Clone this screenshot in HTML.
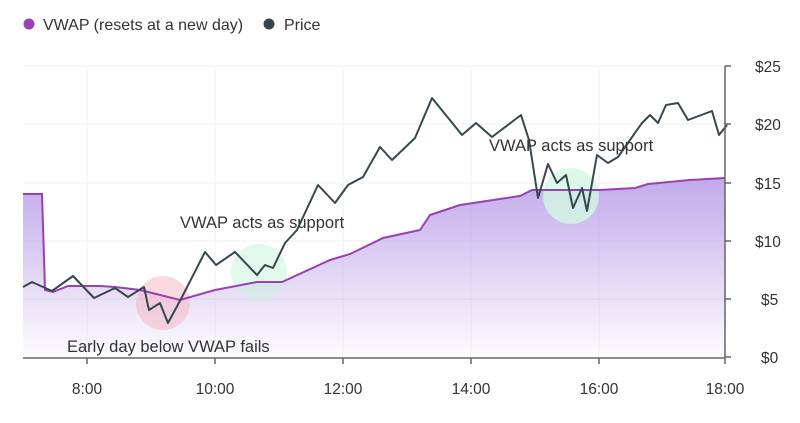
<!DOCTYPE html>
<html><head><style>
body{margin:0;background:#fff;}
svg{display:block;font-family:"Liberation Sans","DejaVu Sans",sans-serif;}
</style></head><body>
<svg width="800" height="423" viewBox="0 0 800 423">
<defs>
<linearGradient id="g" x1="0" y1="0" x2="0" y2="1">
<stop offset="0" stop-color="#b79be6" stop-opacity="0.85"/>
<stop offset="1" stop-color="#b79be6" stop-opacity="0.03"/>
</linearGradient>
</defs>
<g stroke="#f0f0f0" stroke-width="1">
<line x1="23" y1="66" x2="725" y2="66"/><line x1="23" y1="124" x2="725" y2="124"/>
<line x1="23" y1="183" x2="725" y2="183"/><line x1="23" y1="241" x2="725" y2="241"/>
<line x1="23" y1="299" x2="725" y2="299"/>
<line x1="87" y1="66" x2="87" y2="357"/><line x1="215" y1="66" x2="215" y2="357"/>
<line x1="343" y1="66" x2="343" y2="357"/><line x1="471" y1="66" x2="471" y2="357"/>
<line x1="599" y1="66" x2="599" y2="357"/>
</g>
<polygon fill="url(#g)" points="23,357 23,194 42,194 45,290 53,292 68,286 100,286 115,287 140,290 180,300 215,290 257,282 282,282 330,260 350,254 383,238 420,230 430,215 460,205 520,196 532,190 545,190 600,190 635,188 648,184 690,180 725,178 725,357"/>
<circle cx="163" cy="303" r="27" fill="#f4b8c4" fill-opacity="0.55"/>
<circle cx="259" cy="272" r="28" fill="#c6f2dc" fill-opacity="0.5"/>
<circle cx="571" cy="196" r="28" fill="#d2f7e4" fill-opacity="0.8"/>
<polyline fill="none" stroke="#9b3fb5" stroke-width="2" points="23,194 42,194 45,290 53,292 68,286 100,286 115,287 140,290 180,300 215,290 257,282 282,282 330,260 350,254 383,238 420,230 430,215 460,205 520,196 532,190 545,190 600,190 635,188 648,184 690,180 725,178"/>
<polyline fill="none" stroke="#37474f" stroke-width="2" stroke-linejoin="round" points="23,287 32,282 43,287 52,291 73,276 94,298 115,288 128,297 144,287 149,310 160,303 168,323 182,297 205,252 216,265 235,252 257,275 265,265 273,268 285,243 297,230 318,185 335,203 348,185 363,177 380,147 392,160 415,138 432,98 462,135 476,123 492,137 521,115 529,140 538,198 548,164 557,183 566,175 573,208 582,188 587,211 597,155 608,163 618,157 642,123 650,115 658,123 666,105 678,103 688,120 712,111 719,135 727,125"/>
<g stroke="#666" stroke-width="1.5">
<line x1="23" y1="358" x2="725" y2="358"/>
<line x1="725" y1="66" x2="725" y2="358"/>
<line x1="87" y1="358" x2="87" y2="364"/><line x1="215" y1="358" x2="215" y2="364"/>
<line x1="343" y1="358" x2="343" y2="364"/><line x1="471" y1="358" x2="471" y2="364"/>
<line x1="599" y1="358" x2="599" y2="364"/><line x1="725" y1="358" x2="725" y2="364"/>
<line x1="725" y1="66" x2="731" y2="66"/><line x1="725" y1="124" x2="731" y2="124"/>
<line x1="725" y1="183" x2="731" y2="183"/><line x1="725" y1="241" x2="731" y2="241"/>
<line x1="725" y1="299" x2="731" y2="299"/><line x1="725" y1="357" x2="731" y2="357"/>
</g>
<g fill="#333" font-size="15.5">
<text x="755" y="72">$25</text><text x="755" y="130">$20</text><text x="755" y="189">$15</text>
<text x="755" y="247">$10</text><text x="761" y="305">$5</text><text x="761" y="363">$0</text>
<g text-anchor="middle">
<text x="87" y="394">8:00</text><text x="215" y="394">10:00</text><text x="343" y="394">12:00</text>
<text x="471" y="394">14:00</text><text x="599" y="394">16:00</text><text x="725" y="394">18:00</text>
</g>
</g>
<g fill="#333" font-size="16.5">
<text x="180" y="228">VWAP acts as support</text>
<text x="489" y="151">VWAP acts as support</text>
<text x="67" y="352">Early day below VWAP fails</text>
</g>
<circle cx="29" cy="24" r="5.5" fill="#9b3fb5"/>
<text x="43" y="30" font-size="16" fill="#333">VWAP (resets at a new day)</text>
<circle cx="269" cy="24" r="5.5" fill="#37474f"/>
<text x="284" y="30" font-size="16" fill="#333">Price</text>
</svg>
</body></html>
